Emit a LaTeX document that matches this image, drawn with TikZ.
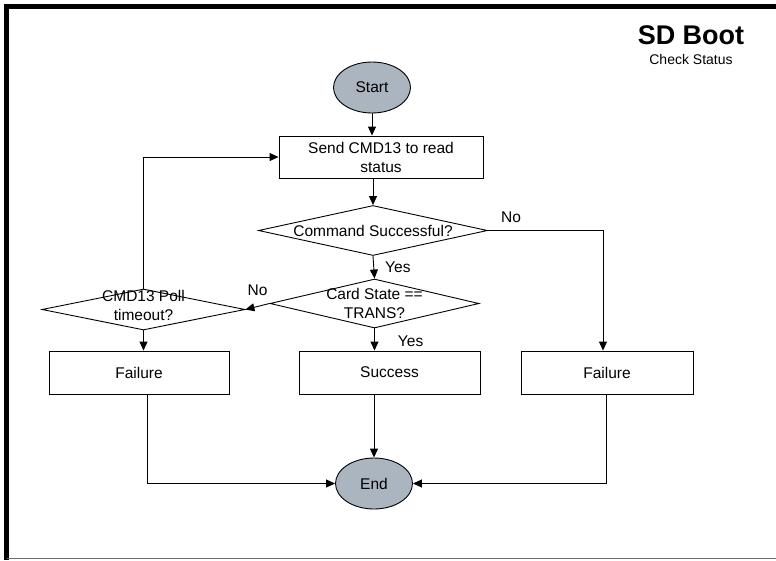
\documentclass[tikz,border=0pt]{standalone}
\usepackage{fontspec}
\setmainfont{Liberation Sans}
\usetikzlibrary{shapes.geometric,arrows.meta}
\definecolor{termfill}{RGB}{170,181,192}
\definecolor{framegray}{RGB}{110,110,110}
\tikzset{
  base/.style={draw=black, line width=0.9pt, inner sep=0pt, font=\fontsize{15.5}{19}\selectfont, align=center},
  term/.style={base, ellipse, fill=termfill, minimum width=77pt, minimum height=51pt},
  proc/.style={base, rectangle, fill=white},
  dia/.style={base, diamond, fill=white},
  conn/.style={line width=0.9pt, -{Triangle[length=9pt,width=8pt]}},
  lbl/.style={font=\fontsize{15.5}{19}\selectfont, inner sep=0pt}
}
\begin{document}
\begin{tikzpicture}[x=1pt,y=-1pt]
\useasboundingbox (0,0) rectangle (776,560);
% frame
\draw[line width=4.5pt] (6.5,560) -- (6.5,6.5) -- (776,6.5);
\draw[framegray, line width=1.2pt] (6.5,558.8) -- (776,558.8);
% title
\node[font=\bfseries\fontsize{27}{30}\selectfont, inner sep=0pt] (title) at (691,35) {SD Boot};
\node[font=\fontsize{14}{16}\selectfont, inner sep=0pt] (subtitle) at (691,59) {Check Status};
% nodes
\node[term] (start) at (372,87.5) {Start};
\node[proc, minimum width=204pt, minimum height=42pt] (send) at (381,157) {Send CMD13 to read\\status};
\node[dia, minimum width=229pt, minimum height=50pt,
      label={[lbl]center:Command Successful?}] (d1) at (373,230.5) {};
\node[dia, minimum width=209pt, minimum height=49pt,
      label={[lbl, align=center, font=\fontsize{15.5}{18.5}\selectfont]center:Card State ==\\TRANS?}] (d2) at (374.5,303.5) {};
\node[dia, minimum width=203pt, minimum height=41pt,
      label={[lbl, align=center, font=\fontsize{15.5}{19}\selectfont, yshift=4pt]center:CMD13 Poll\\timeout?}] (d3) at (143.5,309.5) {};
\node[proc, minimum width=180pt, minimum height=43pt] (f1) at (139,372.5) {Failure};
\node[proc, minimum width=181pt, minimum height=43pt] (succ) at (389.5,372.5) {\vphantom{F}Success};
\node[proc, minimum width=172pt, minimum height=43pt] (f2) at (607,372.5) {Failure};
\node[term] (end) at (374,483.5) {End};
% connectors
\draw[conn] (start.south) -- (start.south |- send.north);
\draw[conn] (send.south -| d1.north) -- (d1.north);
\draw[conn] (d1.east) -| ([xshift=-4pt]f2.north) node[lbl, pos=0.1, above=7pt] (no1) {No};
\draw[conn] (d1.south) -- (d2.north) node[lbl, midway, right=11pt] (yes1) {Yes};
\draw[conn] (d2.south) -- (d2.south |- succ.north) node[lbl, midway, right=23pt, yshift=-2pt] (yes2) {Yes};
\draw[conn] (d2.west) -- (d3.east) node[lbl, midway, above=10pt] (no2) {No};
\draw[conn] (d3.north) |- (d3.north |- send.west) -- (send.west);
\draw[conn] (d3.south) -- (d3.south |- f1.north);
\draw[conn] ([xshift=8pt]f1.south) |- (end.west);
\draw[conn] (succ.south -| end.north) -- (end.north);
\draw[conn] ([xshift=-1pt]f2.south) |- (end.east);
\end{tikzpicture}
\end{document}
